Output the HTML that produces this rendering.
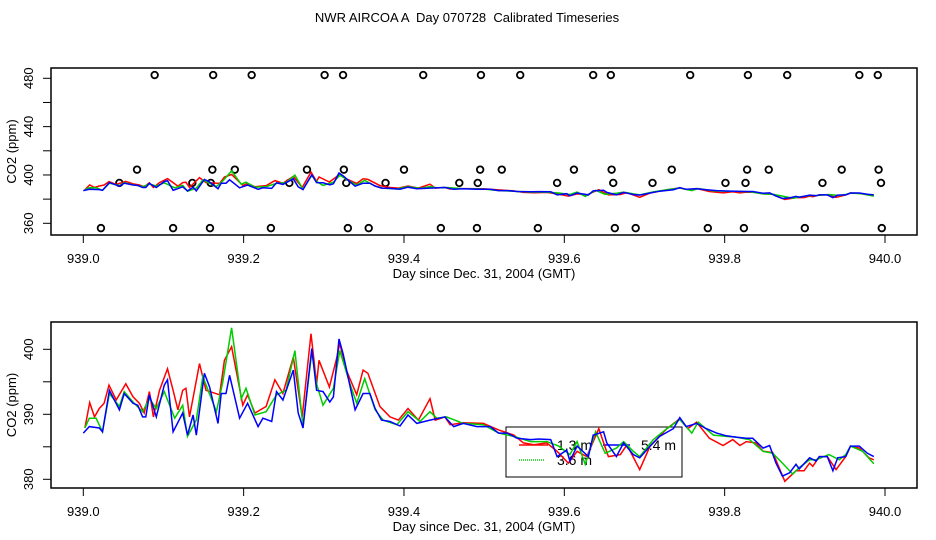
<!DOCTYPE html>
<html><head><meta charset="utf-8"><style>
html,body{margin:0;padding:0;background:#fff;}
svg{display:block;font-family:"Liberation Sans",sans-serif;}
</style></head><body>
<svg id="chart" width="936" height="540" viewBox="0 0 936 540" xmlns="http://www.w3.org/2000/svg">
<text x="467" y="22" font-size="13" text-anchor="middle" style="white-space:pre" xml:space="preserve">NWR AIRCOA A  Day 070728  Calibrated Timeseries</text>
<g id="top"></g>
<g id="bot"></g>
</svg>
<script>
// ---- data ----
const blueDays=[0,.0075,.02,.024,.0325,.045,.051,.062,.068,.074,.078,.0825,.091,.101,.105,.112,.124,.13,.137,.141,.151,.1575,.168,.172,.178,.1825,.195,.205,.218,.224,.235,.241,.249,.262,.268,.274,.28,.285,.291,.299,.3075,.312,.319,.324,.339,.349,.3575,.364,.372,.3825,.395,.405,.416,.4325,.451,.462,.474,.491,.5075,.518,.529,.541,.558,.568,.583,.591,.603,.607,.616,.63,.636,.649,.653,.665,.674,.686,.694,.707,.719,.736,.744,.752,.765,.777,.79,.802,.814,.827,.835,.848,.856,.864,.872,.881,.889,.893,.906,.914,.918,.928,.935,.941,.951,.957,.968,.978,.986];
const blueVals=[387.1,388.1,387.9,387.3,393.7,390.7,393.2,391.7,391.4,389.6,389.6,393.0,389.6,394.5,395.3,387.3,390.2,386.8,389.9,386.8,396.3,394.2,388.6,393.2,393.2,396.0,389.4,391.7,388.1,389.4,388.9,393.5,392.2,396.8,390.2,387.9,394.7,400.1,393.7,393.5,391.9,392.7,401.6,399.3,390.7,393.2,393.2,390.9,389.1,388.9,388.2,389.9,388.6,389.1,389.6,388.1,388.6,388.1,388.1,387.1,387.1,386.3,386.1,386.2,386.1,383.5,384.5,382.8,385.1,383.5,386.8,387.3,385.6,383.5,385.6,383.8,383.3,385.1,386.6,387.8,389.5,388.1,388.6,387.8,387.1,386.7,386.5,386.3,386.3,384.8,385.2,382.5,380.5,381.0,382.3,381.6,383.3,382.8,383.5,383.5,381.3,383.3,383.5,385.1,385.1,384.0,383.5];
const redDays=[.002,.008,.014,.02,.026,.032,.041,.053,.062,.07,.076,.0825,.0875,.095,.105,.112,.118,.124,.128,.1325,.145,.153,.17,.176,.185,.199,.205,.214,.228,.239,.249,.262,.273,.284,.291,.294,.307,.316,.32,.328,.341,.349,.355,.37,.3825,.393,.405,.418,.4325,.439,.451,.4575,.474,.499,.518,.537,.549,.562,.578,.591,.605,.616,.628,.643,.655,.67,.678,.694,.707,.728,.744,.754,.765,.781,.798,.81,.819,.827,.839,.848,.86,.875,.889,.899,.906,.91,.918,.928,.939,.951,.957,.968,.98,.986];
const redVals=[387.9,391.8,389.6,390.9,391.7,394.5,392.2,394.7,392.7,391.7,390.2,393.5,389.6,393.7,397.0,393.7,390.7,393.7,394.0,389.6,397.8,393.7,393.0,398.3,400.4,391.4,393.0,390.2,391.2,395.3,393.2,398.8,389.6,402.4,394.7,398.3,394.2,398.6,400.9,396.8,393.0,396.8,396.3,391.2,389.6,389.1,390.9,389.1,392.4,389.1,389.6,388.4,388.7,388.6,387.6,386.8,385.6,385.3,385.6,384.3,382.5,384.3,383.5,387.8,383.5,383.8,385.3,381.5,385.1,387.8,389.3,387.8,388.8,386.3,385.2,386.1,385.2,385.8,385.6,384.3,384.1,379.7,381.3,381.3,382.5,382.0,383.5,383.5,381.5,383.5,385.1,384.8,383.3,383.0];
const greenDays=[.002,.0075,.016,.024,.0325,.045,.051,.062,.074,.0825,.091,.101,.114,.124,.13,.141,.149,.166,.174,.185,.197,.203,.214,.228,.241,.253,.264,.274,.285,.291,.299,.312,.32,.3325,.341,.351,.364,.374,.391,.405,.42,.4325,.441,.453,.474,.499,.518,.537,.558,.578,.593,.607,.616,.626,.639,.651,.665,.674,.686,.694,.711,.728,.744,.759,.767,.786,.802,.814,.831,.848,.86,.872,.885,.893,.906,.914,.93,.943,.951,.957,.972,.986];
const greenVals=[387.9,389.4,389.4,387.3,393.2,391.2,393.5,391.9,390.4,392.4,390.9,393.5,389.4,391.4,386.6,389.1,395.8,390.4,395.0,403.3,392.4,394.0,389.9,390.4,393.0,393.7,399.8,388.1,399.6,394.7,391.4,394.0,399.8,394.7,391.7,395.5,390.7,389.1,388.4,390.4,388.9,390.4,389.4,389.6,388.6,388.4,387.1,386.6,385.8,385.8,385.1,383.8,385.8,382.3,387.3,384.0,384.8,385.8,384.3,383.5,386.1,387.8,389.2,387.1,388.8,386.8,386.6,386.5,386.1,384.3,384.0,382.5,380.8,381.8,383.0,383.0,383.8,383.0,383.8,385.1,384.3,382.4];
const circHighDays=[.089,.162,.210,.301,.324,.424,.496,.545,.636,.658,.757,.829,.878,.968,.991];
const circMidDays=[.067,.161,.189,.279,.325,.400,.495,.522,.612,.659,.734,.828,.855,.946,.992];
const circLowDays=[.045,.136,.159,.257,.328,.377,.469,.492,.591,.661,.710,.801,.826,.922,.995];
const circBotDays=[.022,.112,.158,.234,.330,.356,.446,.491,.567,.663,.689,.779,.824,.900,.996];
const circLevels=[482.7,404.4,393.4,356];
const xTicks=[939.0,939.2,939.4,939.6,939.8,940.0];
const topYTicks=[360,380,400,420,440,460,480];
const topYLabels=[360,400,440,480];
const botYTicks=[380,385,390,395,400];
const botYLabels=[380,390,400];

const NS="http://www.w3.org/2000/svg";
function mk(parent,tag,attrs){const e=document.createElementNS(NS,tag);for(const k in attrs)e.setAttribute(k,attrs[k]);parent.appendChild(e);return e;}
const xS=d=>83.3+(d-939)*801.7;

function panel(g,box,yS,yTicks,yLabels,drawExtra){
  const r=mk(g,'rect',{x:box.x,y:box.y,width:box.w,height:box.h,fill:'none',stroke:'#000','stroke-width':1.5});
  
  
  xTicks.forEach(t=>{
    const x=xS(t);
    const l=mk(g,'line',{x1:x,x2:x,y1:box.y+box.h,y2:box.y+box.h+8,stroke:'#000','stroke-width':1});
    
    
    const tx=mk(g,'text',{x:x,y:box.y+box.h+28,'font-size':13,'text-anchor':'middle'});
    tx.textContent=t.toFixed(1);
    
    
  });
  yTicks.forEach(t=>{
    const y=yS(t);
    const l=mk(g,'line',{x1:box.x-8,x2:box.x,y1:y,y2:y,stroke:'#000','stroke-width':1});
    
    
  });
  yLabels.forEach(t=>{
    const y=yS(t);
    const tx=mk(g,'text',{x:0,y:0,'font-size':13,'text-anchor':'middle',transform:`translate(33,${y}) rotate(-90)`});
    tx.textContent=t;
    
    
  });
  const xl=mk(g,'text',{x:484,y:box.y+box.h+43,'font-size':13,'text-anchor':'middle'});
  xl.textContent='Day since Dec. 31, 2004 (GMT)';
  
  
  const yl=mk(g,'text',{x:0,y:0,'font-size':13,'text-anchor':'middle',transform:`translate(16,${box.y+box.h/2}) rotate(-90)`});
  yl.textContent='CO2 (ppm)';
  
  
  if(drawExtra)drawExtra(g);
  const series=[['red',redDays,redVals,'#f00'],['green',greenDays,greenVals,'#0c0'],['blue',blueDays,blueVals,'#00f']];
  series.forEach(([n,ds,vs,c])=>{
    const pts=ds.map((d,i)=>xS(939+d).toFixed(1)+','+yS(vs[i]).toFixed(1)).join(' ');
    const p=mk(g,'polyline',{points:pts,fill:'none',stroke:c,'stroke-width':1.5});
    
    
  });
}

// top panel
const topY=v=>223.3+(360-v)*(145/120);
panel(document.getElementById('top'),{x:51,y:68,w:866,h:167},topY,topYTicks,topYLabels,g=>{
  [circHighDays,circMidDays,circLowDays,circBotDays].forEach((arr,li)=>{
    arr.forEach(d=>{
      const c=mk(g,'circle',{cx:xS(939+d),cy:topY(circLevels[li]),r:3.3,fill:'none',stroke:'#000','stroke-width':1.8});
      
      
    });
  });
});

// bottom panel
const botY=v=>349.3+(400-v)*6.5;
panel(document.getElementById('bot'),{x:51,y:322,w:866,h:166},botY,botYTicks,botYLabels,g=>{
  const lg=mk(g,'g',{});
  
  
  mk(lg,'rect',{x:506,y:427,width:176,height:50,fill:'none',stroke:'#000','stroke-width':1});
  const e=[[519,548,445,'#f00','1.3 m',557,'none'],[603,630,445,'#00f','5.4 m',641,'none'],[519,545,460,'#0c0','3.6 m',557,'1,1']];
  e.forEach(([x1,x2,y,c,t,tx,da])=>{
    const l=mk(lg,'line',{x1:x1,x2:x2,y1:y,y2:y,stroke:c,'stroke-width':1.5,'stroke-dasharray':da});
    
    
    const te=mk(lg,'text',{x:tx,y:y+5,'font-size':14});
    te.textContent=t;
    
    
  });
});
</script>
</body></html>
